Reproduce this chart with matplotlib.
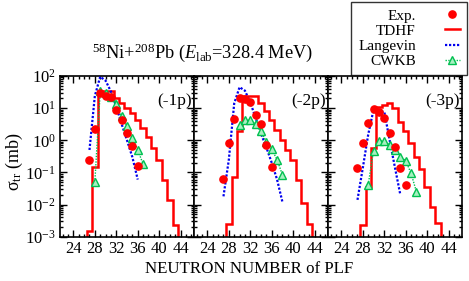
import numpy as np
import matplotlib
matplotlib.use("Agg")
import matplotlib.pyplot as plt
from matplotlib.ticker import LogLocator, LogFormatterMathtext, MultipleLocator, NullFormatter
from matplotlib.lines import Line2D

plt.rcParams['font.family'] = ['Liberation Serif', 'DejaVu Serif']
plt.rcParams['mathtext.fontset'] = 'custom'
plt.rcParams['mathtext.rm'] = 'Liberation Serif'
plt.rcParams['mathtext.it'] = 'Liberation Serif:italic'
plt.rcParams['mathtext.bf'] = 'Liberation Serif:bold'

# ---------------- data ----------------
panel_labels = ["(-1p)", "(-2p)", "(-3p)"]

# Exp.
exp_n1 = [27, 28, 29, 30, 31, 32, 33, 34, 35, 36]
exp_v1 = [0.25, 2.2, 30, 24, 22, 8.7, 4.2, 1.7, 0.66, 0.16]
exp_n2 = [27, 28, 29, 30, 31, 32, 33, 34, 35, 36]
exp_v2 = [0.062, 0.8, 4.5, 21, 19, 15, 6.3, 3.2, 0.7, 0.15]
exp_n3 = [27, 28, 29, 30, 31, 32, 33, 34, 35, 36]
exp_v3 = [0.135, 0.83, 3.4, 9.2, 7.8, 4.8, 1.7, 0.63, 0.14, 0.04]

# TDHF (histogram steps)
tdhf_n1 = [27, 28, 29, 30, 31, 32, 33, 34, 35, 36, 37, 38, 39, 40, 41, 42, 43]
tdhf_v1 = [0.0015, 0.15, 33, 33, 33, 20, 14, 10, 7, 4.3, 2.4, 1.3, 0.56, 0.25,
           0.06, 0.014, 0.0023]
tdhf_n2 = [28, 29, 30, 31, 32, 33, 34, 35, 36, 37, 38, 39, 40, 41, 42, 43]
tdhf_v2 = [0.0025, 0.07, 1.9, 24, 24, 24, 14, 8, 4.4, 2.1, 1.05, 0.5, 0.25,
           0.06, 0.011, 0.0025]
tdhf_n3 = [28, 29, 30, 31, 32, 33, 34, 35, 36, 37, 38, 39, 40, 41, 42]
tdhf_v3 = [0.0023, 0.036, 0.56, 11, 12.6, 14, 9.8, 3.8, 1.9, 0.82, 0.31, 0.13,
           0.036, 0.0085, 0.0026]

# Langevin
lang_n1 = [27, 28, 29, 30, 31, 32, 33, 34, 35, 36]
lang_v1 = [0.5, 24, 95, 72, 33, 11, 3.2, 1.0, 0.3, 0.06]
lang_n2 = [27, 28, 29, 30, 31, 32, 33, 34, 35, 36, 37, 38]
lang_v2 = [0.018, 0.25, 14, 45, 35, 15, 5, 1.6, 0.6, 0.2, 0.06, 0.012]
lang_n3 = [27, 28, 29, 30, 31, 32, 33, 34, 35]
lang_v3 = [0.014, 0.14, 1.5, 9, 7.5, 7.8, 1.0, 0.14, 0.02]

# CWKB
cwkb_n1 = [28, 29, 30, 31, 32, 33, 34, 35, 36, 37]
cwkb_v1 = [0.05, 33, 30, 22, 13, 5.5, 2.7, 1.2, 0.51, 0.18]
cwkb_n2 = [30, 31, 32, 33, 34, 35, 36, 37, 38]
cwkb_v2 = [3.0, 4.3, 4.3, 3.1, 1.9, 0.9, 0.52, 0.25, 0.083]
cwkb_n3 = [29, 30, 31, 32, 33, 34, 35, 36, 37, 38]
cwkb_v3 = [0.041, 0.48, 0.92, 0.98, 0.71, 0.5, 0.31, 0.23, 0.093, 0.025]

xticks = [24, 28, 32, 36, 40, 44]

exp_sets = [(exp_n1, exp_v1), (exp_n2, exp_v2), (exp_n3, exp_v3)]
tdhf_sets = [(tdhf_n1, tdhf_v1), (tdhf_n2, tdhf_v2), (tdhf_n3, tdhf_v3)]
lang_sets = [(lang_n1, lang_v1), (lang_n2, lang_v2), (lang_n3, lang_v3)]
cwkb_sets = [(cwkb_n1, cwkb_v1), (cwkb_n2, cwkb_v2), (cwkb_n3, cwkb_v3)]

# ---------------- styles ----------------
RED = '#ff0000'
BLUE = '#0000ee'
GREEN = '#00c050'
GREEN_FACE = '#a6f0c0'

W, H = 469, 281
fig = plt.figure(figsize=(W / 100, H / 100), dpi=100)
left, right = 60 / W, 462 / W
top, bottom = 1 - 76 / H, 1 - 236.7 / H
gs = fig.add_gridspec(1, 3, left=left, right=right, top=top, bottom=bottom, wspace=0)
axes = [fig.add_subplot(gs[0, i]) for i in range(3)]

for i, ax in enumerate(axes):
    ax.set_yscale('log')
    ax.set_xlim(21.5, 46.5)
    ax.set_ylim(1e-3, 1e2)

    tn, tv = tdhf_sets[i]
    tn = np.asarray(tn, float)
    edges = np.concatenate([tn - 0.5, [tn[-1] + 0.5]])
    ax.stairs(tv, edges, baseline=1e-6, color=RED, lw=1.8, zorder=2)

    ln, lv = lang_sets[i]
    ax.plot(ln, lv, color=BLUE, lw=1.6, ls=(0, (1, 0.8)), zorder=3)

    cn, cv = cwkb_sets[i]
    ax.plot(cn, cv, color=GREEN, lw=1.0, ls=(0, (1, 1)), marker='^', ms=6,
            mfc=GREEN_FACE, mec=GREEN, mew=1.0, zorder=4)

    en, ev = exp_sets[i]
    ax.plot(en, ev, ls='none', marker='o', ms=5.2, color=RED, mec=RED, zorder=5)

    ax.xaxis.set_major_locator(matplotlib.ticker.FixedLocator(xticks))
    ax.xaxis.set_minor_locator(MultipleLocator(1))
    ax.yaxis.set_major_locator(LogLocator(base=10, numticks=10))
    ax.yaxis.set_minor_locator(LogLocator(base=10, subs=np.arange(2, 10), numticks=20))
    ax.yaxis.set_minor_formatter(NullFormatter())
    ax.tick_params(which='both', direction='in', top=True, right=True,
                   labelsize=12, width=1.0, pad=3)
    ax.tick_params(which='major', length=5)
    ax.tick_params(which='minor', length=2.5)
    if i == 0:
        ax.yaxis.set_major_formatter(LogFormatterMathtext())
    else:
        ax.tick_params(labelleft=False)
    for s in ax.spines.values():
        s.set_linewidth(1.2)
    ax.text(0.985, 0.845, panel_labels[i], transform=ax.transAxes, ha='right',
            va='center', fontsize=12.5)

fig.text(92 / W, 1 - 58 / H, r"$^{58}$Ni+$^{208}$Pb ($E_{\rm lab}$=328.4 MeV)",
         ha='left', va='baseline', fontsize=13.2)
fig.text(249 / W, 1 - 269 / H, "NEUTRON NUMBER of PLF", ha='center',
         va='center', fontsize=12.2)
fig.text(14 / W, 1 - 162 / H, r"σ$_{\rm tr}$ (mb)", rotation=90, ha='center',
         va='center', fontsize=13)

handles = [
    Line2D([], [], ls='none', marker='o', ms=5.2, color=RED),
    Line2D([], [], color=RED, lw=1.8),
    Line2D([], [], color=BLUE, lw=1.6, ls=(0, (1, 0.8))),
    Line2D([], [], color=GREEN, lw=1.0, ls=(0, (1, 1)), marker='^', ms=6,
           mfc=GREEN_FACE, mec=GREEN),
]
labels = ["Exp.", "TDHF", "Langevin", "CWKB"]
leg = fig.legend(handles, labels, loc='upper right',
                 bbox_to_anchor=(467 / W, 1 - 2 / H), bbox_transform=fig.transFigure,
                 markerfirst=False, fontsize=11, frameon=True, fancybox=False,
                 edgecolor='black', handlelength=1.0, handletextpad=1.9,
                 labelspacing=0.1, borderpad=0.45, borderaxespad=0)
leg.get_frame().set_linewidth(1.0)
for t in leg.get_texts():
    t.set_ha('right')

fig.savefig("out.png", dpi=100)
